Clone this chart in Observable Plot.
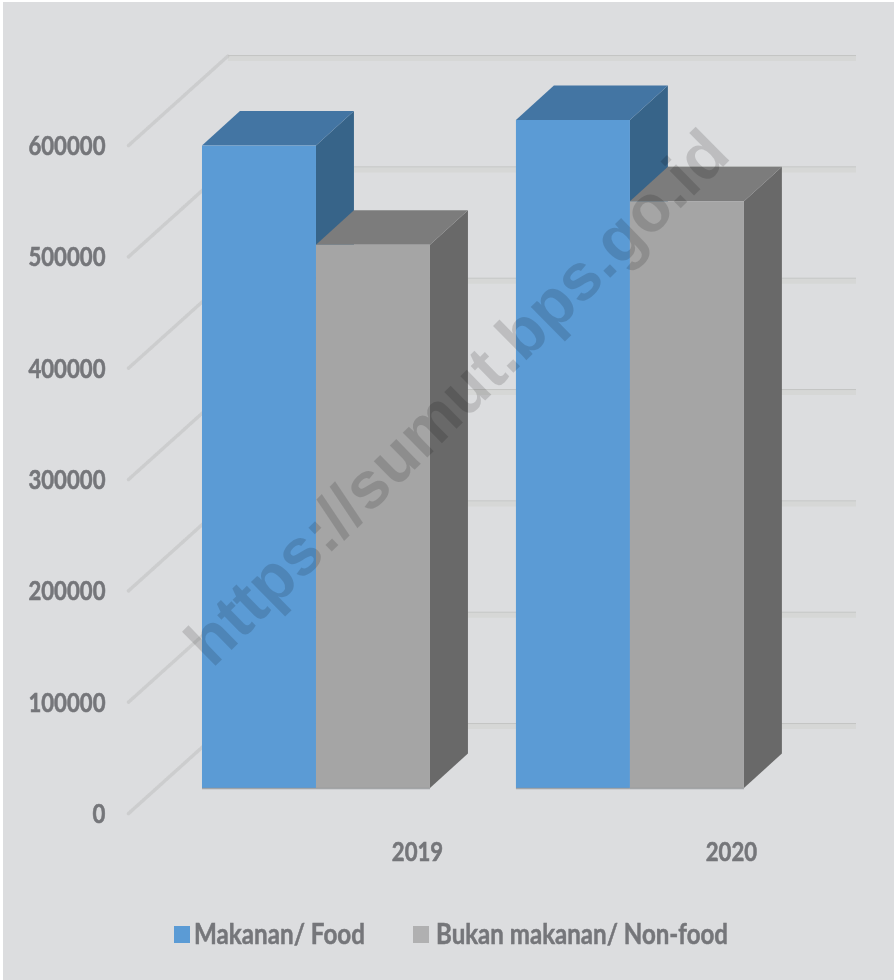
<!DOCTYPE html>
<html>
<head>
<meta charset="utf-8">
<script src="https://cdn.jsdelivr.net/npm/d3@7"></script>
<script src="https://cdn.jsdelivr.net/npm/@observablehq/plot@0.6"></script>
<style>
  html, body { margin: 0; padding: 0; background: #fff; }
  #page { position: absolute; left: 3px; top: 2px; width: 891px; height: 978px; background: #dcdddf; overflow: hidden; }
  #chart { position: absolute; left: -3px; top: -2px; filter: blur(0.45px); }
  #chart svg { display: block; background: transparent; }
  #chart .narrow text { stroke: #75767a; stroke-width: 0.6px; }
  #legend { position: absolute; left: -3px; top: 908px; width: 894px; height: 50px; font: bold 28px Lato, sans-serif; color: #75767a; -webkit-text-stroke: 0.5px #75767a; filter: blur(0.35px); }
  #legend span { position: absolute; top: 6px; white-space: nowrap; line-height: 34px; transform-origin: 0 50%; }
  #legend i { position: absolute; top: 16px; width: 16px; height: 17px; }
</style>
</head>
<body>
<div id="page">
  <div id="chart"></div>
  <div id="legend"></div>
</div>
<script>
const years = ["2019", "2020"];
const food = [577000, 600000];
const nonFood = [488000, 527000];
const yTicks = [0, 100000, 200000, 300000, 400000, 500000, 600000];
const seriesNames = ["Makanan/ Food", "Bukan makanan/ Non-food"];
const watermark = "https://sumut.bps.go.id";

const colors = {
  food: {front: "#5b9bd5", top: "#4375a3", side: "#376489"},
  nonFood: {front: "#a5a5a5", top: "#7c7c7c", side: "#696969"}
};
const legendColors = ["#5b9bd5", "#b0b0b1"];
const legendWidths = [171, 292];

// 3-D projection offsets, in scale units (x: one bar width, y: value)
const GROUP_STEP = 2.754;
const FLOOR_Y = 22450;
const DEPTH_X = 0.333;
const DEPTH_Y = 31000;
const WALL_X = 0.877;
const WALL_Y = 80800;

const bars = years.flatMap((year, i) => [
  {series: "food", x0: i * GROUP_STEP, value: food[i]},
  {series: "nonFood", x0: i * GROUP_STEP + 1, value: nonFood[i]}
]);

function barMarks(b) {
  const c = colors[b.series];
  const x1 = b.x0 + 1;
  const base = FLOOR_Y;
  const top = b.value + FLOOR_Y;
  const side = [
    {x: x1, y1: base, y2: top},
    {x: x1 + DEPTH_X, y1: base + DEPTH_Y, y2: top + DEPTH_Y}
  ];
  const lid = [
    {x: b.x0, y1: top, y2: top},
    {x: b.x0 + DEPTH_X, y1: top, y2: top + DEPTH_Y},
    {x: x1, y1: top, y2: top + DEPTH_Y},
    {x: x1 + DEPTH_X, y1: top + DEPTH_Y, y2: top + DEPTH_Y}
  ];
  return [
    Plot.areaY(side, {x: "x", y1: "y1", y2: "y2", fill: c.side}),
    Plot.areaY(lid, {x: "x", y1: "y1", y2: "y2", fill: c.top}),
    Plot.rect([b], {x1: d => d.x0, x2: d => d.x0 + 1, y1: base, y2: top, fill: c.front}),
    Plot.ruleY([base], {x1: b.x0, x2: x1, stroke: "#8f9194", strokeOpacity: 0.75, strokeWidth: 1.5})
  ];
}

const wallMarks = [
  Plot.ruleY(yTicks, {y: d => d + WALL_Y, x1: WALL_X - 0.649, x2: 5.737, stroke: "#d6d7d6", strokeWidth: 5, dy: 3}),
  Plot.ruleY(yTicks, {y: d => d + WALL_Y, x1: WALL_X - 0.649, x2: 5.737, stroke: "#c4c5c4", strokeWidth: 1}),
  ...yTicks.map(t => Plot.line(
    [{x: -0.649, y: t}, {x: WALL_X - 0.649, y: t + WALL_Y}],
    {x: "x", y: "y", stroke: "#bfc0bf", strokeOpacity: 0.55, strokeWidth: 3.5, strokeDasharray: "1 1.5"}
  ))
];

const chart = Plot.plot({
  width: 894,
  height: 900,
  marginLeft: 128,
  marginRight: 38,
  marginTop: 40,
  marginBottom: 87,
  style: {background: "transparent", overflow: "visible"},
  x: {domain: [-0.649, 5.737], range: [128, 856], axis: null},
  y: {domain: [0, 600000], range: [813, 145], axis: null},
  marks: [
    ...wallMarks,
    Plot.axisY(yTicks, {
      anchor: "left",
      tickSize: 0,
      tickPadding: 23,
      tickFormat: d => String(d),
      label: null,
      dy: 1,
      className: "narrow",
      fontFamily: "Lato",
      fontWeight: "bold",
      fontSize: 27,
      fill: "#75767a"
    }),
    ...bars.flatMap(barMarks),
    Plot.text(years, {
      x: (d, i) => i * GROUP_STEP + 1.886,
      y: 0,
      dy: 39,
      text: d => d,
      className: "narrow",
      fontFamily: "Lato",
      fontWeight: "bold",
      fontSize: 27,
      fill: "#75767a"
    }),
    Plot.text([watermark], {
      x: 2.237,
      y: 373000,
      text: d => d,
      rotate: -44.5,
      fontFamily: "Liberation Sans",
      fontWeight: "bold",
      fontSize: 66,
      fill: "#000",
      fillOpacity: 0.14
    })
  ]
});
document.getElementById("chart").appendChild(chart);

// Calibri-like narrow figures: compress Lato horizontally
chart.querySelectorAll(".narrow text").forEach(t => {
  t.setAttribute("textLength", (t.getComputedTextLength() * 0.82).toFixed(1));
  t.setAttribute("lengthAdjust", "spacingAndGlyphs");
});

const legend = document.getElementById("legend");
[[174, 194], [413, 436]].forEach(([sw, tx], i) => {
  const box = document.createElement("i");
  box.style.left = sw + "px";
  box.style.background = legendColors[i];
  legend.appendChild(box);
  const label = document.createElement("span");
  label.style.left = tx + "px";
  label.textContent = seriesNames[i];
  legend.appendChild(label);
  label.style.transform = `scaleX(${legendWidths[i] / label.getBoundingClientRect().width})`;
});
</script>
</body>
</html>
